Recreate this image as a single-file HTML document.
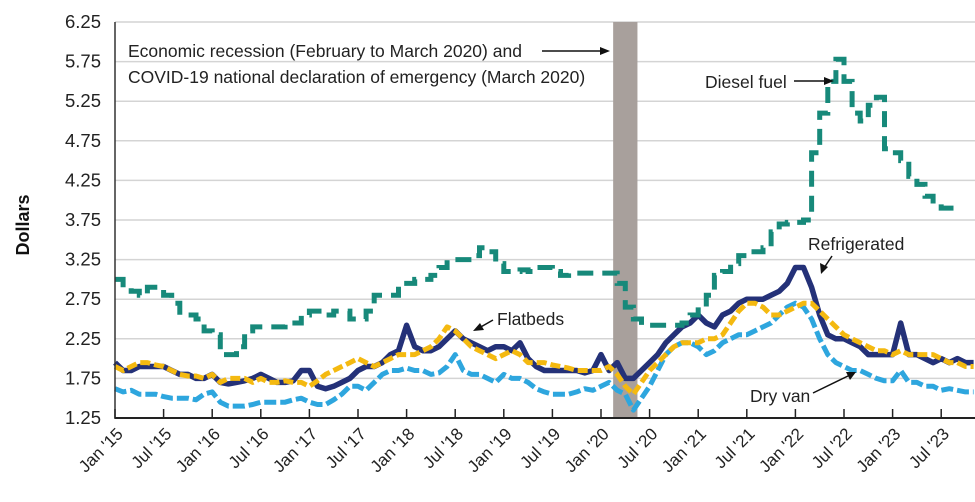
<!DOCTYPE html>
<html><head><meta charset="utf-8"><style>
html,body{margin:0;padding:0;background:#fff;}
svg{display:block;font-family:"Liberation Sans",Arial,sans-serif;}
</style></head><body>
<svg id="chart" width="975" height="502" viewBox="0 0 975 502" xmlns="http://www.w3.org/2000/svg">
<g id="grid"></g>
<rect id="recession" fill="#a8a09c"></rect>
<g id="series"></g>
<g id="axes"></g>
<text x="0" y="0" transform="translate(29,225) rotate(-90)" text-anchor="middle" font-size="18" font-weight="bold" fill="#111">Dollars</text>
<text x="128" y="57" font-size="17.5" fill="#222">Economic recession (February to March 2020) and</text>
<text x="128" y="83" font-size="17.5" fill="#222">COVID-19 national declaration of emergency (March 2020)</text>
<line x1="542" y1="51" x2="604" y2="51" stroke="#111" stroke-width="1.5"/>
<polygon points="610,51 600,47 600,55" fill="#111"/>
<text x="705" y="88" font-size="17.5" fill="#222">Diesel fuel</text>
<line x1="794" y1="81" x2="828" y2="81" stroke="#111" stroke-width="1.5"/>
<polygon points="834,81 824,77 824,85" fill="#111"/>
<text x="808" y="250" font-size="17.5" fill="#222">Refrigerated</text>
<line x1="832" y1="256" x2="824" y2="268" stroke="#111" stroke-width="1.5"/>
<polygon points="821,274 820,263 828,267" fill="#111"/>
<text x="497" y="325" font-size="17.5" fill="#222">Flatbeds</text>
<line x1="493" y1="320" x2="479" y2="328" stroke="#111" stroke-width="1.5"/>
<polygon points="473,331 480,323 484,330" fill="#111"/>
<text x="750" y="402" font-size="17.5" fill="#222">Dry van</text>
<line x1="813" y1="393" x2="850" y2="375" stroke="#111" stroke-width="1.5"/>
<polygon points="856,372 846,372 850,380" fill="#111"/>
</svg>
<script>
const yTicks=["1.25","1.75","2.25","2.75","3.25","3.75","4.25","4.75","5.25","5.75","6.25"];
const xTickLabels=["Jan '15","Jul '15","Jan '16","Jul '16","Jan '17","Jul '17","Jan '18","Jul '18","Jan '19","Jul '19","Jan '20","Jul '20","Jan '21","Jul '21","Jan '22","Jul '22","Jan '23","Jul '23"];
const recessionStart=61.5, recessionEnd=64.5;
const diesel=[3.00,2.90,2.85,2.80,2.90,2.90,2.80,2.70,2.55,2.55,2.50,2.35,
2.30,2.05,2.05,2.15,2.35,2.40,2.40,2.40,2.40,2.45,2.45,2.55,
2.60,2.60,2.55,2.60,2.60,2.50,2.50,2.60,2.80,2.80,2.80,2.95,
2.95,3.00,3.00,3.05,3.15,3.25,3.25,3.25,3.30,3.40,3.35,3.20,
3.10,3.10,3.12,3.10,3.15,3.15,3.10,3.05,3.08,3.08,3.08,3.08,
3.08,3.08,2.95,2.65,2.50,2.42,2.42,2.42,2.42,2.42,2.45,2.55,
2.65,2.80,3.05,3.10,3.20,3.30,3.35,3.35,3.40,3.60,3.70,3.72,
3.72,3.75,4.60,5.10,5.50,5.78,5.50,5.10,5.00,5.20,5.30,4.65,
4.60,4.50,4.30,4.20,4.05,3.95,3.90,3.90,3.90];
const refrigerated=[1.95,1.85,1.85,1.90,1.90,1.90,1.90,1.85,1.80,1.80,1.75,1.75,
1.80,1.70,1.68,1.70,1.72,1.75,1.80,1.75,1.70,1.70,1.72,1.85,
1.85,1.65,1.62,1.65,1.70,1.75,1.85,1.90,1.90,1.95,2.05,2.10,
2.42,2.15,2.10,2.10,2.15,2.25,2.35,2.25,2.20,2.15,2.10,2.15,
2.15,2.10,2.20,2.00,1.90,1.85,1.85,1.85,1.85,1.85,1.82,1.85,
2.05,1.85,1.95,1.75,1.75,1.85,1.95,2.05,2.20,2.30,2.40,2.45,
2.55,2.45,2.40,2.55,2.60,2.70,2.75,2.75,2.75,2.80,2.85,2.95,
3.15,3.15,2.90,2.55,2.30,2.25,2.25,2.20,2.15,2.05,2.05,2.05,
2.05,2.45,2.05,2.05,2.00,1.95,2.00,1.95,2.00,1.95,1.95];
const flatbeds=[1.90,1.85,1.90,1.95,1.95,1.92,1.90,1.85,1.80,1.78,1.78,1.75,
1.80,1.70,1.75,1.75,1.75,1.70,1.75,1.70,1.70,1.72,1.70,1.70,
1.65,1.72,1.80,1.85,1.90,1.95,2.00,1.95,1.90,1.95,2.00,2.05,
2.05,2.05,2.10,2.15,2.25,2.40,2.35,2.25,2.15,2.10,2.05,2.00,
2.05,2.10,2.05,1.95,1.95,1.95,1.92,1.90,1.88,1.85,1.85,1.85,
1.85,1.90,1.80,1.65,1.55,1.70,1.85,1.95,2.05,2.15,2.20,2.20,
2.20,2.25,2.25,2.30,2.45,2.60,2.70,2.70,2.65,2.55,2.55,2.60,
2.65,2.70,2.70,2.60,2.50,2.40,2.30,2.25,2.20,2.15,2.10,2.10,
2.05,2.10,2.05,2.05,2.05,2.05,2.00,1.95,1.95,1.90,1.90];
const dryVan=[1.62,1.58,1.60,1.55,1.55,1.55,1.52,1.50,1.50,1.50,1.48,1.55,
1.58,1.45,1.40,1.40,1.40,1.42,1.45,1.45,1.45,1.45,1.48,1.50,
1.45,1.42,1.42,1.48,1.55,1.65,1.65,1.60,1.70,1.80,1.85,1.85,
1.88,1.85,1.85,1.80,1.82,1.90,2.05,1.85,1.80,1.80,1.75,1.70,
1.80,1.75,1.75,1.70,1.62,1.58,1.55,1.55,1.55,1.58,1.62,1.60,
1.65,1.70,1.60,1.55,1.35,1.50,1.65,1.85,2.05,2.15,2.20,2.20,
2.15,2.05,2.10,2.20,2.25,2.30,2.30,2.35,2.40,2.45,2.55,2.65,
2.70,2.65,2.50,2.25,2.05,1.95,1.90,1.85,1.85,1.80,1.75,1.72,
1.72,1.85,1.70,1.70,1.65,1.65,1.60,1.62,1.60,1.58,1.58];

const NS="http://www.w3.org/2000/svg";
const X0=115,X1=975,Y0=418,Y1=22;
function xScale(m){return X0+m*8.1;}
function yScale(v){return Y0-(v-1.25)/(6.25-1.25)*(Y0-Y1);}
function mk(tag,attrs,parent){const e=document.createElementNS(NS,tag);for(const k in attrs)e.setAttribute(k,attrs[k]);parent.appendChild(e);return e;}

const grid=document.getElementById('grid');
yTicks.forEach((t)=>{
  const y=yScale(parseFloat(t));
  if(parseFloat(t)>1.25){
    const l=mk('line',{x1:X0,x2:X1,y1:y,y2:y,stroke:'#d4d4d4','stroke-width':1.5},grid);
    
    
  }
  const tx=mk('text',{x:101,y:y+6,'text-anchor':'end','font-size':18.5,fill:'#222'},grid);
  tx.textContent=t;
  
  
});

const rec=document.getElementById('recession');
rec.setAttribute('x',xScale(recessionStart));
rec.setAttribute('width',xScale(recessionEnd)-xScale(recessionStart));
rec.setAttribute('y',Y1);
rec.setAttribute('height',Y0-Y1);

const sg=document.getElementById('series');
function linePath(arr){return arr.map((v,i)=>(i?'L':'M')+xScale(i).toFixed(1)+','+yScale(v).toFixed(1)).join(' ');}
function stepPath(arr){let d='';arr.forEach((v,i)=>{const x=xScale(i),y=yScale(v);d+=(i?'L'+x.toFixed(1)+','+yScale(arr[i-1]).toFixed(1)+' L':'M')+x.toFixed(1)+','+y.toFixed(1)+' ';});d+='L'+xScale(arr.length-0.4).toFixed(1)+','+yScale(arr[arr.length-1]).toFixed(1);return d;}

const pDry=mk('path',{d:linePath(dryVan),fill:'none',stroke:'#2ea6de','stroke-width':5,'stroke-dasharray':'12 4','stroke-linejoin':'round'},sg);


const pRef=mk('path',{d:linePath(refrigerated),fill:'none',stroke:'#243178','stroke-width':5.5,'stroke-linejoin':'round'},sg);


const pFlat=mk('path',{d:linePath(flatbeds),fill:'none',stroke:'#f4b910','stroke-width':5,'stroke-dasharray':'10 4','stroke-linejoin':'round'},sg);


const pDie=mk('path',{d:stepPath(diesel),fill:'none',stroke:'#17897a','stroke-width':5,'stroke-dasharray':'16 9'},sg);



const ax=document.getElementById('axes');
const yl=mk('line',{x1:X0,x2:X0,y1:Y1,y2:Y0+1,stroke:'#333','stroke-width':1.5},ax);


const xl=mk('line',{x1:X0,x2:X1,y1:Y0,y2:Y0,stroke:'#222','stroke-width':2},ax);


xTickLabels.forEach((t,i)=>{
  const x=xScale(i*6);
  const tk=mk('line',{x1:x,x2:x,y1:Y0,y2:Y0-9,stroke:'#222','stroke-width':1.5},ax);
  
  
  const tx=mk('text',{x:0,y:0,'text-anchor':'end','font-size':17,fill:'#222',transform:'translate('+(x+9)+','+(Y0+17)+') rotate(-45)'},ax);
  tx.textContent=t;
  
  
});
</script>
</body></html>
